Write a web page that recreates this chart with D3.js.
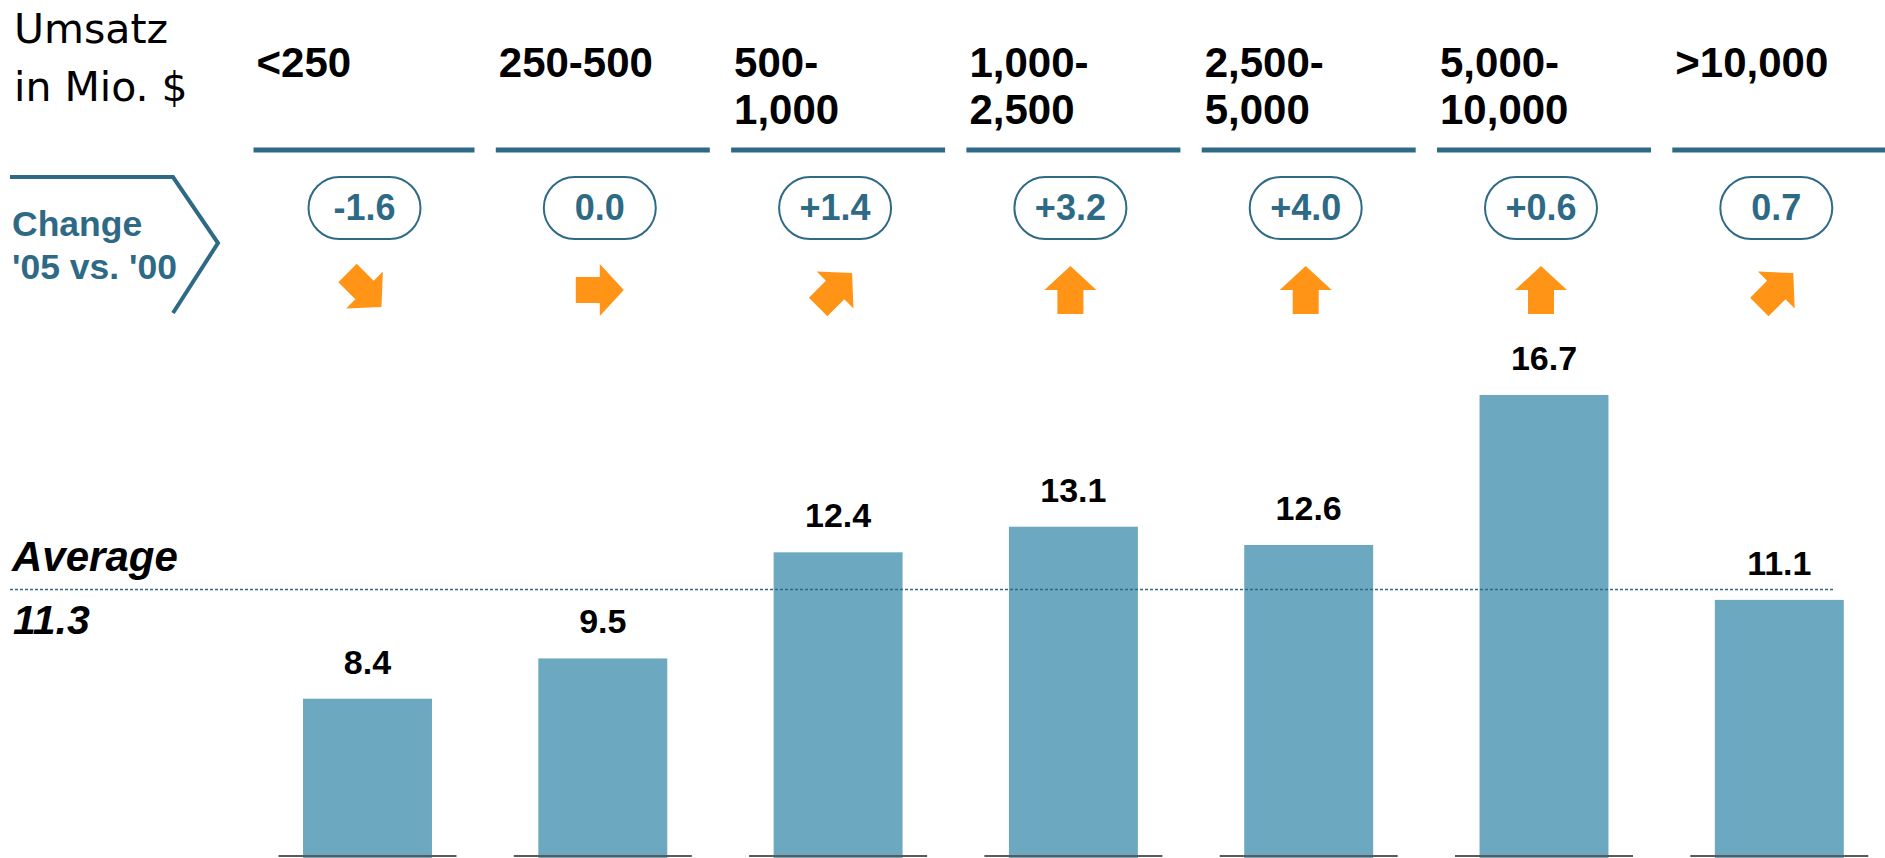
<!DOCTYPE html>
<html>
<head>
<meta charset="utf-8">
<script src="https://cdn.jsdelivr.net/npm/d3@7"></script>
<style>
  html, body { margin: 0; padding: 0; background: #ffffff; overflow: hidden; }
  svg { display: block; }
</style>
</head>
<body>
<svg id="chart" width="1885" height="858"></svg>
<script>
// ---- data ----
const categories = ["<250", "250-500", "500-1,000", "1,000-2,500", "2,500-5,000", "5,000-10,000", ">10,000"];
const categoryLines = [["<250"], ["250-500"], ["500-", "1,000"], ["1,000-", "2,500"], ["2,500-", "5,000"], ["5,000-", "10,000"], [">10,000"]];
const values = [8.4, 9.5, 12.4, 13.1, 12.6, 16.7, 11.1];
const changeLabels = ["-1.6", "0.0", "+1.4", "+3.2", "+4.0", "+0.6", "0.7"];
const arrowDirections = ["down-right", "right", "up-right", "up", "up", "up", "up-right"];
const averageValue = 11.3;
const averageLabel = "Average";
const unitLines = ["Umsatz", "in Mio. $"];
const changeTitleLines = ["Change", "'05 vs. '00"];
const yDomain = [4.1, 16.7];

// ---- styles ----
const darkTeal = "#2e6a85";
const barColor = "#6ca8bf";
const orange = "#ff9416";
const boldFont = "'Liberation Sans', Arial, sans-serif";

const svg = d3.select("#chart");
const baseY = 856;

const x = d3.scaleBand()
  .domain(categories)
  .range([249.85, 1896.95])
  .paddingInner(0.452)
  .paddingOuter(0.226);

const y = d3.scaleLinear().domain(yDomain).range([baseY, 395]);

const cx = d => x(d) + x.bandwidth() / 2;
const headStart = (d, i) => cx(d) - 107 - (i === 0 ? 7 : 0);

// ---- unit title ----
svg.append("g").selectAll("text").data(unitLines).join("text")
  .attr("x", 14)
  .attr("y", (d, i) => 43 + i * 58)
  .attr("font-family", "'DejaVu Sans', Tahoma, sans-serif")
  .attr("font-size", 41)
  .attr("fill", "#000")
  .text(d => d);

// ---- category headers ----
const head = svg.append("g").selectAll("g").data(categories).join("g");
head.append("line")
  .attr("x1", (d, i) => headStart(d, i))
  .attr("x2", d => cx(d) + 107)
  .attr("y1", 150).attr("y2", 150)
  .attr("stroke", darkTeal)
  .attr("stroke-width", 5);
head.each(function(d, i) {
  d3.select(this).selectAll("text").data(categoryLines[i]).join("text")
    .attr("x", headStart(d, i) + 3)
    .attr("y", (t, j) => 77 + j * 47)
    .attr("font-family", boldFont)
    .attr("font-weight", "bold")
    .attr("font-size", 42)
    .attr("fill", "#000")
    .text(t => t);
});

// ---- change chevron ----
svg.append("path")
  .attr("d", "M10,177 L173,177 L218,243 L173,313")
  .attr("fill", "none")
  .attr("stroke", darkTeal)
  .attr("stroke-width", 4);
svg.append("g").selectAll("text").data(changeTitleLines).join("text")
  .attr("x", 12)
  .attr("y", (d, i) => 236 + i * 43)
  .attr("font-family", boldFont)
  .attr("font-weight", "bold")
  .attr("font-size", 35.5)
  .attr("fill", darkTeal)
  .text(d => d);

// ---- change pills ----
const pills = svg.append("g").selectAll("g").data(categories).join("g")
  .attr("transform", d => `translate(${cx(d) - 3},208)`);
pills.append("rect")
  .attr("x", -56).attr("y", -31)
  .attr("width", 112).attr("height", 62)
  .attr("rx", 31).attr("ry", 31)
  .attr("fill", "#fff")
  .attr("stroke", darkTeal)
  .attr("stroke-width", 2);
pills.append("text")
  .attr("text-anchor", "middle")
  .attr("y", 12)
  .attr("font-family", boldFont)
  .attr("font-weight", "bold")
  .attr("font-size", 36)
  .attr("fill", darkTeal)
  .text((d, i) => changeLabels[i]);

// ---- arrows ----
const arrowShape = "M-24,-13 L0,-13 L0,-26 L24,0 L0,26 L0,13 L-24,13 Z";
const angle = { "right": 0, "up": -90, "up-right": -45, "down-right": 45, "down": 90 };
svg.append("g").selectAll("path").data(categories).join("path")
  .attr("d", arrowShape)
  .attr("transform", (d, i) => `translate(${cx(d) - 3},290) rotate(${angle[arrowDirections[i]]})`)
  .attr("fill", orange);

// ---- bars ----
svg.append("g").selectAll("rect").data(categories).join("rect")
  .attr("x", d => x(d))
  .attr("width", x.bandwidth())
  .attr("y", (d, i) => y(values[i]))
  .attr("height", (d, i) => 858 - y(values[i]))
  .attr("fill", barColor);

// ---- baseline segments ----
svg.append("g").selectAll("line").data(categories).join("line")
  .attr("x1", d => cx(d) - 89)
  .attr("x2", d => cx(d) + 89)
  .attr("y1", baseY).attr("y2", baseY)
  .attr("stroke", "#5a5a5a")
  .attr("stroke-width", 2);

// ---- value labels ----
svg.append("g").selectAll("text").data(categories).join("text")
  .attr("x", d => cx(d))
  .attr("y", (d, i) => y(values[i]) - 25)
  .attr("text-anchor", "middle")
  .attr("font-family", boldFont)
  .attr("font-weight", "bold")
  .attr("font-size", 34)
  .attr("fill", "#000")
  .text((d, i) => values[i].toFixed(1));

// ---- average line ----
const avgY = y(averageValue) - 3;
svg.append("line")
  .attr("x1", 10).attr("x2", 1835)
  .attr("y1", avgY).attr("y2", avgY)
  .attr("stroke", darkTeal)
  .attr("stroke-width", 1.5)
  .attr("stroke-dasharray", "3,2");
svg.append("text")
  .attr("x", 12).attr("y", avgY - 19)
  .attr("font-family", boldFont)
  .attr("font-weight", "bold")
  .attr("font-style", "italic")
  .attr("font-size", 42)
  .attr("fill", "#000")
  .text(averageLabel);
svg.append("text")
  .attr("x", 13).attr("y", avgY + 44)
  .attr("font-family", boldFont)
  .attr("font-weight", "bold")
  .attr("font-style", "italic")
  .attr("font-size", 41)
  .attr("fill", "#000")
  .text(averageValue.toFixed(1));
</script>
</body>
</html>
